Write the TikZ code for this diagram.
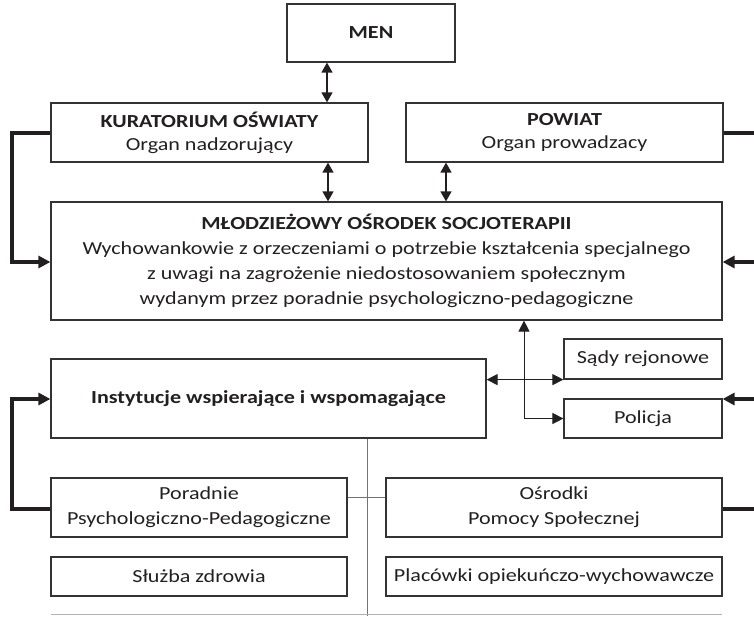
\documentclass[tikz,border=0pt]{standalone}
\usepackage{fontspec}
\setmainfont{Carlito}[FakeStretch=1.2]
\usetikzlibrary{arrows.meta,calc}
\definecolor{ink}{HTML}{231F20}
\definecolor{frame}{HTML}{333333}
\begin{document}
\begin{tikzpicture}[x=1pt,y=-1pt,
  box/.style={draw=frame,line width=1.2pt,rectangle,inner sep=0pt,align=center,text=ink,
    font=\fontsize{18.4}{25}\selectfont},
  tight/.style={font=\fontsize{18.4}{23}\selectfont},
  dbl/.style={line width=1.4pt,draw=ink,{Triangle[width=11pt,length=10pt]}-{Triangle[width=11pt,length=10pt]}},
  thin/.style={line width=1pt,draw=ink,{Triangle[width=11pt,length=11pt]}-{Triangle[width=11pt,length=11pt]}},
  thick/.style={line width=3.3pt,draw=ink,-{Triangle[width=12pt,length=12pt]}},
  thickline/.style={line width=3.3pt,draw=ink},
]
\useasboundingbox (0,0) rectangle (754,616);
\node[box,minimum width=168pt,minimum height=58pt] (men) at (371,33) {\textbf{MEN}};
\node[box,tight,minimum width=317pt,minimum height=59pt] (kur) at (209.5,132.5) {\textbf{KURATORIUM OŚWIATY}\\Organ nadzorujący};
\node[box,tight,minimum width=317pt,minimum height=59pt] (pow) at (564.5,132.5) {\textbf{POWIAT}\\Organ prowadzacy};
\node[box,minimum width=671pt,minimum height=118pt] (mos) at (386.5,261) {\textbf{MŁODZIEŻOWY OŚRODEK SOCJOTERAPII}\\Wychowankowie z orzeczeniami o potrzebie kształcenia specjalnego\\z uwagi na zagrożenie niedostosowaniem społecznym\\wydanym przez poradnie psychologiczno-pedagogiczne};
\node[box,minimum width=435pt,minimum height=79pt] (inst) at (268.5,398.5) {\textbf{Instytucje wspierające i wspomagające}};
\node[box,minimum width=158pt,minimum height=40pt] (sady) at (643,359) {Sądy rejonowe};
\node[box,minimum width=158pt,minimum height=39pt] (pol) at (643,418.5) {Policja};
\node[box,minimum width=296pt,minimum height=59pt] (por) at (199,507.5) {Poradnie\\Psychologiczno-Pedagogiczne};
\node[box,minimum width=336pt,minimum height=59pt] (osr) at (554,507.5) {Ośrodki\\Pomocy Społecznej};
\node[box,minimum width=296pt,minimum height=39pt] (slu) at (199,576.5) {Służba zdrowia};
\node[box,minimum width=336pt,minimum height=39pt] (pla) at (554,576.5) {Placówki opiekuńczo-wychowawcze};

\coordinate (eR1) at (754,133);
\coordinate (eR2) at (754,262);
\coordinate (eR3) at (754,399);
\coordinate (eR4) at (754,509);
\coordinate (bot) at (367,616);

% vertical double arrows
\draw[dbl] (men.south -| 327,0) -- (kur.north -| 327,0);
\draw[dbl] (kur.south -| 328,0) -- (mos.north -| 328,0);
\draw[dbl] (pow.south -| 446,0) -- (mos.north -| 446,0);

% thick feedback lines
\draw[thick] (kur.west |- 0,133) -- (12,133) -- (12,262) -- (mos.west |- 0,262);
\draw[thickline] (pow.east |- 0,133) -- (eR1);
\draw[thick] (eR2) -- (mos.east |- 0,262);
\draw[thick] (eR3) -- (pol.east |- 0,399);
\draw[thickline] (osr.east |- 0,509) -- (eR4);
\draw[thick] (por.west |- 0,509) -- (12,509) -- (12,399) -- (inst.west |- 0,399);

% thin connectors
\draw[thin] (inst.east |- sady.south) -- (sady.south west);
\draw[thin] (mos.south -| 524,0) |- (pol.west);

% gray tree lines
\draw[line width=1pt,draw=black!55] (inst.south -| bot) -- (bot);
\draw[line width=1pt,draw=black!55] (por.east |- 0,497) -- (osr.west |- 0,497);
\draw[line width=1pt,draw=black!30] (51,614.5) -- (722,614.5);
\end{tikzpicture}
\end{document}
